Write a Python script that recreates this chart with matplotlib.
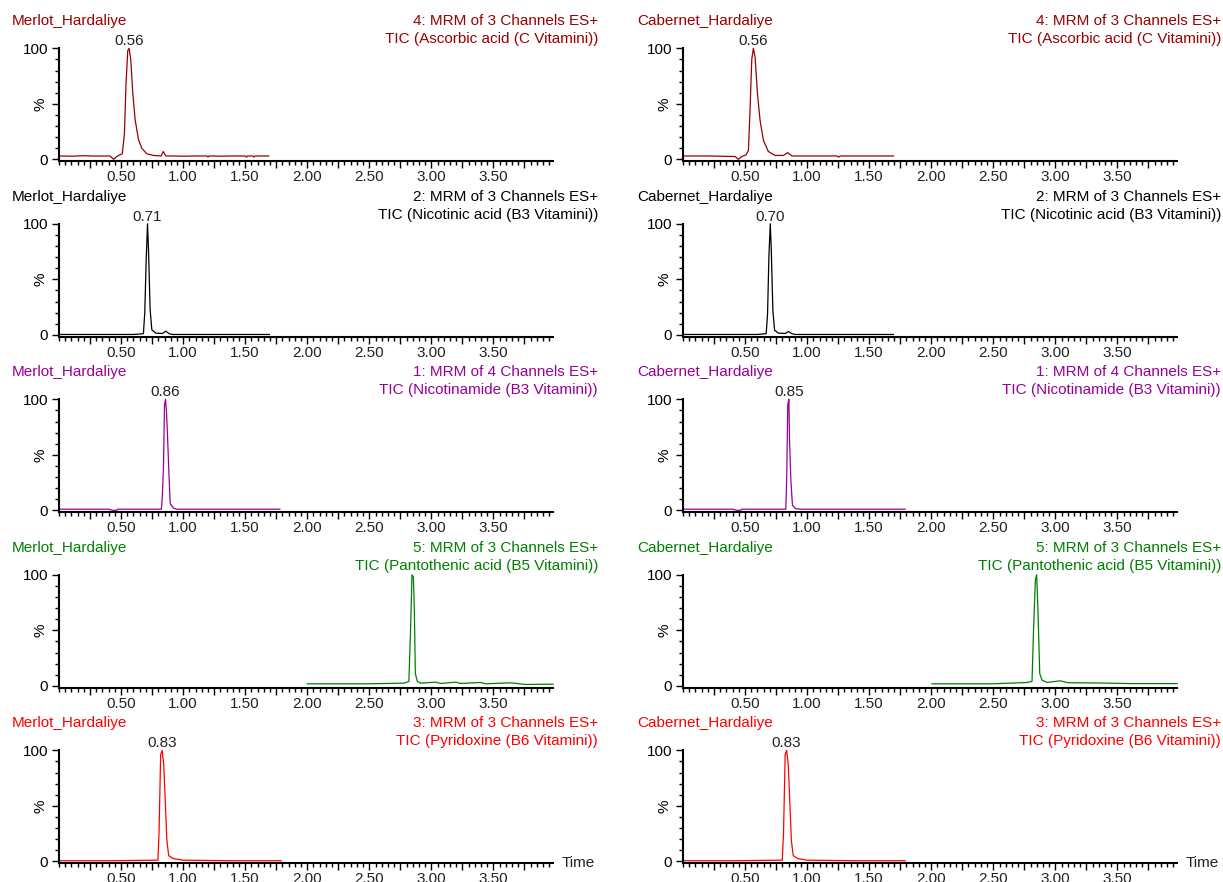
import matplotlib
matplotlib.use('Agg')
import matplotlib.pyplot as plt
from matplotlib.ticker import MultipleLocator, FixedLocator, FixedFormatter

plt.rcParams['font.family'] = ['Liberation Sans', 'DejaVu Sans']

# ---------------- data ----------------
samples = ['Merlot_Hardaliye', 'Cabernet_Hardaliye']
channel_lines = ['4: MRM of 3 Channels ES+', '2: MRM of 3 Channels ES+',
                 '1: MRM of 4 Channels ES+', '5: MRM of 3 Channels ES+',
                 '3: MRM of 3 Channels ES+']
compounds = ['TIC (Ascorbic acid (C Vitamini))', 'TIC (Nicotinic acid (B3 Vitamini))',
             'TIC (Nicotinamide (B3 Vitamini))', 'TIC (Pantothenic acid (B5 Vitamini))',
             'TIC (Pyridoxine (B6 Vitamini))']
colors = ['#990000', '#000000', '#990099', '#008000', '#ff0000']
peak_labels_merlot = ['0.56', '0.71', '0.86', None, '0.83']
peak_labels_cabernet = ['0.56', '0.70', '0.85', None, '0.83']
x_tick_labels = ['0.50', '1.00', '1.50', '2.00', '2.50', '3.00', '3.50']

# Ascorbic acid
merlot_c_t = [0.00, 0.10, 0.20, 0.30, 0.41, 0.44, 0.46, 0.48, 0.51, 0.527, 0.54, 0.554, 0.565,
              0.578, 0.594, 0.613, 0.64, 0.667, 0.707, 0.76, 0.823, 0.84, 0.86, 0.92, 1.00,
              1.10, 1.19, 1.20, 1.21, 1.30, 1.40, 1.50, 1.51, 1.52, 1.56, 1.57, 1.58, 1.69]
merlot_c_i = [3.0, 2.8, 3.2, 2.9, 3.0, 0.0, 2.0, 3.5, 5.0, 23, 68, 98, 100,
              90, 60, 36, 18, 10, 5, 3.5, 3.0, 7.0, 3.0, 3.0, 2.8,
              3.0, 3.0, 2.0, 3.0, 2.8, 3.0, 3.0, 2.0, 3.0, 3.0, 2.0, 3.0, 3.0]
cab_c_t = [0.00, 0.20, 0.42, 0.446, 0.473, 0.508, 0.527, 0.54, 0.554, 0.567, 0.581, 0.60,
           0.621, 0.648, 0.688, 0.742, 0.809, 0.844, 0.877, 1.00, 1.24, 1.253, 1.266, 1.50, 1.696]
cab_c_i = [3.0, 3.0, 2.5, 0.0, 2.5, 4.0, 8.0, 44, 90, 100, 92, 59,
           35, 17, 7, 3.5, 3.5, 6.0, 3.0, 3.0, 3.0, 2.0, 3.0, 3.0, 3.0]

# Nicotinic acid
merlot_b3a_t = [0.00, 0.30, 0.60, 0.68, 0.691, 0.702, 0.713, 0.721, 0.734, 0.748, 0.78,
                0.834, 0.86, 0.887, 0.915, 1.20, 1.695]
merlot_b3a_i = [0.3, 0.3, 0.3, 1.0, 20, 66, 100, 77, 23, 4.5, 1.5,
                1.2, 3.3, 1.0, 0.3, 0.3, 0.3]
cab_b3a_t = [0.00, 0.30, 0.60, 0.67, 0.681, 0.692, 0.703, 0.711, 0.724, 0.738, 0.77,
             0.824, 0.85, 0.877, 0.905, 1.20, 1.695]
cab_b3a_i = [0.3, 0.3, 0.3, 1.0, 18, 70, 100, 78, 22, 4.0, 1.5,
             1.2, 3.0, 1.0, 0.3, 0.3, 0.3]

# Nicotinamide
merlot_b3n_t = [0.00, 0.20, 0.40, 0.43, 0.466, 0.47, 0.60, 0.825, 0.833, 0.842, 0.85, 0.858,
                0.866, 0.874, 0.885, 0.896, 0.922, 0.95, 1.20, 1.50, 1.78]
merlot_b3n_i = [1.0, 1.0, 1.0, 0.0, 0.0, 1.0, 1.0, 1.0, 13.5, 40, 95, 100,
                89, 68, 35, 6, 2, 1, 1, 1, 1]
cab_b3n_t = [0.00, 0.20, 0.40, 0.43, 0.466, 0.47, 0.60, 0.80, 0.828, 0.836, 0.844, 0.853,
             0.858, 0.869, 0.882, 0.907, 0.95, 1.20, 1.50, 1.79]
cab_b3n_i = [1.0, 1.0, 1.0, 0.0, 0.0, 1.0, 1.0, 1.0, 1.0, 31, 95, 100,
             65, 27, 4.5, 1.5, 1.0, 1.0, 1.0, 1.0]

# Pantothenic acid
merlot_b5_t = [2.00, 2.50, 2.779, 2.819, 2.833, 2.844, 2.855, 2.863, 2.871, 2.887, 2.914,
               3.035, 3.075, 3.196, 3.236, 3.397, 3.437, 3.639, 3.76, 3.98]
merlot_b5_i = [1.8, 1.8, 2.4, 3.9, 53, 100, 98, 68, 11, 3.9, 2.4,
               3.3, 2.1, 3.3, 2.1, 3.0, 1.8, 2.7, 1.2, 1.5]
cab_b5_t = [2.006, 2.50, 2.772, 2.812, 2.825, 2.839, 2.849, 2.860, 2.874, 2.893, 2.933,
            3.04, 3.10, 3.363, 3.60, 3.98]
cab_b5_i = [1.8, 1.8, 3.0, 4.0, 53, 95, 100, 68, 11, 5, 3,
            4.5, 2.8, 2.5, 2.0, 2.0]

# Pyridoxine
merlot_b6_t = [0.00, 0.40, 0.797, 0.806, 0.819, 0.831, 0.844, 0.856, 0.869, 0.884, 0.922,
               1.00, 1.40, 1.79]
merlot_b6_i = [0.5, 0.5, 1.0, 26, 96, 100, 87, 55, 19, 5, 2.4, 1.0, 0.5, 0.5]
cab_b6_t = [0.00, 0.40, 0.800, 0.810, 0.823, 0.835, 0.848, 0.860, 0.873, 0.888, 0.926,
            1.00, 1.40, 1.79]
cab_b6_i = [0.5, 0.5, 1.0, 26, 96, 100, 87, 55, 19, 5, 2.4, 1.0, 0.5, 0.5]

traces = [
    [(merlot_c_t, merlot_c_i), (cab_c_t, cab_c_i)],
    [(merlot_b3a_t, merlot_b3a_i), (cab_b3a_t, cab_b3a_i)],
    [(merlot_b3n_t, merlot_b3n_i), (cab_b3n_t, cab_b3n_i)],
    [(merlot_b5_t, merlot_b5_i), (cab_b5_t, cab_b5_i)],
    [(merlot_b6_t, merlot_b6_i), (cab_b6_t, cab_b6_i)],
]
peak_labels = [peak_labels_merlot, peak_labels_cabernet]

# ---------------- layout ----------------
W, H = 1223, 882
fig = plt.figure(figsize=(W / 100, H / 100), dpi=100)
col_left = [59, 683]
title_left = [12, 637]
title_right = [598, 1221]
ax_w = 494
top0 = 48.3
row_step = 175.5
ax_h = 113
FS = 11

major_x = [0.25 * k for k in range(1, 16)]
major_x_labels = [('%.2f' % v) if abs((v / 0.5) - round(v / 0.5)) < 1e-9 else '' for v in major_x]

for r in range(5):
    for c in range(2):
        top = top0 + r * row_step
        ax = fig.add_axes([col_left[c] / W, 1 - (top + ax_h) / H, ax_w / W, ax_h / H])
        t, inten = traces[r][c]
        ax.plot(t, inten, color=colors[r], lw=0.9, clip_on=False)
        ax.set_xlim(0, 3.98)
        ax.set_ylim(-1.8, 100)
        for s in ['top', 'right']:
            ax.spines[s].set_visible(False)
        for s in ['left', 'bottom']:
            ax.spines[s].set_linewidth(1.5)
            ax.spines[s].set_color('black')
        ax.spines['left'].set_bounds(-1.8, 100)

        ax.xaxis.set_major_locator(FixedLocator(major_x))
        ax.xaxis.set_major_formatter(FixedFormatter(major_x_labels))
        ax.xaxis.set_minor_locator(MultipleLocator(0.05))
        ax.yaxis.set_major_locator(FixedLocator([0, 50, 100]))
        ax.yaxis.set_major_formatter(FixedFormatter(['0', '%', '100']))
        ax.yaxis.set_minor_locator(MultipleLocator(10))
        ax.tick_params(axis='both', which='major', direction='out', length=5, width=1,
                       labelsize=FS, colors='black')
        ax.tick_params(axis='both', which='minor', direction='out', length=3, width=1,
                       colors='black')
        ax.tick_params(axis='x', which='major', pad=1.5)
        ax.tick_params(axis='y', which='major', pad=3)
        for lab in ax.get_yticklabels():
            if lab.get_text() == '%':
                lab.set_rotation(90)
                lab.set_va('center')
        for lab in ax.get_xticklabels():
            lab.set_color('#222222')

        # titles
        fig.text(title_left[c] / W, 1 - (top - 27) / H, samples[c], color=colors[r],
                 fontsize=FS, ha='left', va='center')
        fig.text(title_right[c] / W, 1 - (top - 27) / H, channel_lines[r], color=colors[r],
                 fontsize=FS, ha='right', va='center')
        fig.text(title_right[c] / W, 1 - (top - 9) / H, compounds[r], color=colors[r],
                 fontsize=FS, ha='right', va='center')

        # peak label
        lbl = peak_labels[c][r]
        if lbl is not None:
            k = inten.index(max(inten))
            ax.annotate(lbl, xy=(t[k], 100), xytext=(0, 0), textcoords='offset points',
                        ha='center', va='bottom', fontsize=FS, color='#222222',
                        annotation_clip=False)
        if r == 4:
            ax.annotate('Time', xy=(1, 0), xycoords='axes fraction', xytext=(6, 0),
                        textcoords='offset points', ha='left', va='center',
                        fontsize=FS, color='#222222', annotation_clip=False)

fig.savefig('out.png', dpi=100, facecolor='white')
